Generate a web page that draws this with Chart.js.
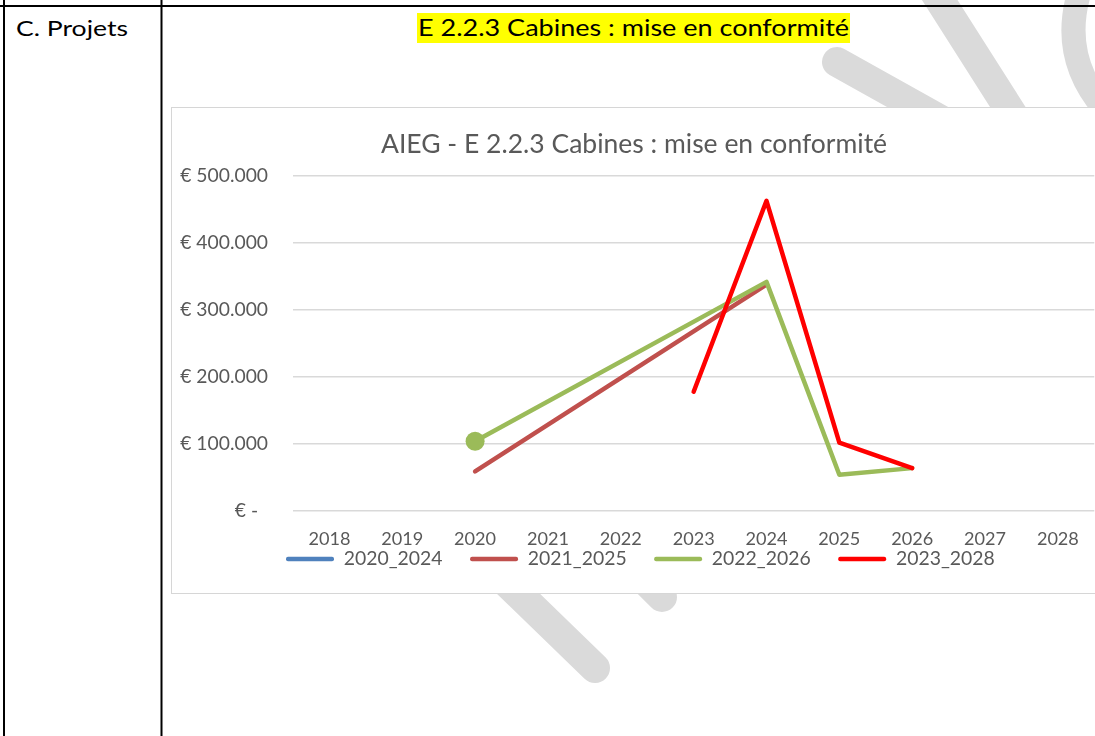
<!DOCTYPE html>
<html>
<head>
<meta charset="utf-8">
<script src="https://cdn.jsdelivr.net/npm/chart.js@4/dist/chart.umd.min.js"></script>
<style>
html, body { margin: 0; padding: 0; background: #ffffff; width: 1095px; height: 736px; overflow: hidden; }
#page { position: relative; width: 1095px; height: 736px; overflow: hidden; background: #ffffff; }
#deco { position: absolute; left: 0; top: 0; }
#frame { position: absolute; left: 171px; top: 107px; width: 1000px; height: 485px; border: 1px solid #d6d6d6; background: #ffffff; }
#chartBox { position: absolute; left: 172px; top: 108px; width: 924px; height: 485px; }
#chartBox canvas { display: block; }
</style>
</head>
<body>
<div id="page">
<svg id="deco" width="1095" height="736" xmlns="http://www.w3.org/2000/svg">
  <g stroke="#dadada" stroke-width="30" stroke-linecap="round" fill="none">
    <line x1="927" y1="-20" x2="1032" y2="145"/>
    <line x1="837" y1="62" x2="1000" y2="153"/>
    <path d="M 1080 -10 Q 1058 60 1110 115" stroke-width="24"/>
    <line x1="430" y1="508" x2="595" y2="668"/>
    <line x1="560" y1="495" x2="662" y2="597"/>
  </g>
  <rect x="417" y="13" width="433" height="30" fill="#ffff00"/>
  <text x="418" y="36" font-family="Lato" font-size="24" fill="#000" textLength="431" lengthAdjust="spacingAndGlyphs">E 2.2.3 Cabines : mise en conformité</text>
  <text x="16" y="36" font-family="Lato" font-size="21.5" fill="#000" textLength="112" lengthAdjust="spacingAndGlyphs">C. Projets</text>
  <rect x="0" y="5" width="1095" height="2" fill="#000"/>
  <rect x="3" y="0" width="2" height="736" fill="#000"/>
  <rect x="160.5" y="0" width="2" height="736" fill="#000"/>
</svg>
<div id="frame"></div>
<div id="chartBox"><canvas id="c" width="924" height="485"></canvas></div>
</div>
<script>
// ---- data ----
const years = ['2018', '2019', '2020', '2021', '2022', '2023', '2024', '2025', '2026', '2027', '2028'];
const series2020_2024 = [null, null, null, null, null, null, null, null, null, null, null];
const series2021_2025 = [null, null, 59000, null, null, null, 338000, null, null, null, null];
const series2022_2026 = [null, null, 104000, null, null, null, 342000, 54000, 64000, null, null];
const series2023_2028 = [null, null, null, null, null, 178000, 463000, 102000, 64000, null, null];
const seriesNames = ['2020_2024', '2021_2025', '2022_2026', '2023_2028'];
const chartTitle = 'AIEG - E 2.2.3 Cabines : mise en conformité';
const yMin = 0, yMax = 500000, yStep = 100000;

// ---- layout helpers ----
const FONT = 'Lato';
const mctx = document.createElement('canvas').getContext('2d');
function fitSize(text, target) {
  mctx.font = '100px ' + FONT;
  return Math.round(target / mctx.measureText(text).width * 1000) / 10;
}
const titleSize = fitSize(chartTitle, 506);
const ySize = fitSize('€ 500.000', 88);
const xSize = fitSize('2018', 42);
const legSize = fitSize('2020_2024', 99);

const CANVAS_H = 485;
const titleCenter = 36.9, plotTop = 68, plotBottom = 403, xLabelCenter = 431, legendCenter = 451;
const legendStartX = 114;
const titleLH = titleSize * 1.2;
const titlePadTop = titleCenter - titleLH / 2;
const titlePadBottom = plotTop - titlePadTop - titleLH;
const xTickPad = xLabelCenter - plotBottom - xSize * 1.2 / 2;
const xAxisH = xTickPad + xSize * 1.2;
const legPad = 27.5;
const legendH = legSize + legPad + 10;
const layoutBottom = CANVAS_H - (plotBottom + xAxisH + legendH);

Chart.defaults.font.family = FONT;
Chart.defaults.color = '#595959';

function fmtEuro(v) {
  if (v === 0) return '€ -  ';
  return '€ ' + String(v).replace(/\B(?=(\d{3})+(?!\d))/g, '.');
}

const colors = ['#4F81BD', '#C0504D', '#9BBB59', '#FF0000'];
const allSeries = [series2020_2024, series2021_2025, series2022_2026, series2023_2028];

const datasets = allSeries.map((s, i) => ({
  label: seriesNames[i],
  data: s,
  borderColor: colors[i],
  backgroundColor: colors[i],
  borderWidth: 4.5,
  borderCapStyle: 'round',
  borderJoinStyle: 'round',
  tension: 0,
  spanGaps: true,
  fill: false,
  order: allSeries.length - i,
  pointRadius: (ctx) => (i === 2 && ctx.dataIndex === 2 ? 9.5 : 0),
  pointBorderWidth: 0,
  pointHoverRadius: 0
}));

// moves the legend block so that it sits tight under the category labels, as in the source
const legendPlacer = {
  id: 'legendPlacer',
  afterLayout(chart) {
    const lg = chart.legend;
    if (!lg) return;
    const currentCenter = lg.top + legPad + legSize / 2;
    const dy = legendCenter - currentCenter;
    lg.top += dy; lg.bottom += dy;
    const start = (lg.left + legPad + lg.right - lg.lineWidths[0]) / 2;
    const dx = legendStartX - start;
    lg.left += dx; lg.right += dx;
  }
};

new Chart(document.getElementById('c'), {
  type: 'line',
  data: { labels: years, datasets },
  plugins: [legendPlacer],
  options: {
    responsive: false,
    animation: false,
    devicePixelRatio: 1,
    layout: { padding: { top: 0, left: 0, right: 0, bottom: layoutBottom } },
    plugins: {
      title: {
        display: true,
        text: chartTitle,
        color: '#595959',
        font: { family: FONT, size: titleSize, weight: 'normal' },
        padding: { top: titlePadTop, bottom: titlePadBottom }
      },
      legend: {
        display: true,
        position: 'bottom',
        labels: {
          color: '#595959',
          font: { family: FONT, size: legSize },
          boxWidth: 48,
          boxHeight: 4.5,
          padding: legPad,
          useBorderRadius: true,
          borderRadius: 2,
          sort: (a, b) => a.datasetIndex - b.datasetIndex,
          generateLabels: (chart) => Chart.defaults.plugins.legend.labels.generateLabels(chart)
            .map(it => Object.assign(it, { fillStyle: it.strokeStyle, lineWidth: 0, borderRadius: 2 }))
        }
      },
      tooltip: { enabled: false }
    },
    scales: {
      x: {
        type: 'category',
        offset: true,
        grid: { display: false, drawTicks: false },
        border: { display: false },
        ticks: { color: '#595959', font: { family: FONT, size: xSize }, padding: xTickPad, maxRotation: 0, autoSkip: false },
        afterFit: (scale) => { scale.height = xAxisH; }
      },
      y: {
        min: yMin,
        max: yMax,
        grid: { color: '#d9d9d9', lineWidth: 1.5, drawTicks: false },
        border: { display: false },
        ticks: { stepSize: yStep, color: '#595959', font: { family: FONT, size: ySize }, padding: 25, callback: fmtEuro },
        afterFit: (scale) => { scale.width = 121; }
      }
    }
  }
});
</script>
</body>
</html>
